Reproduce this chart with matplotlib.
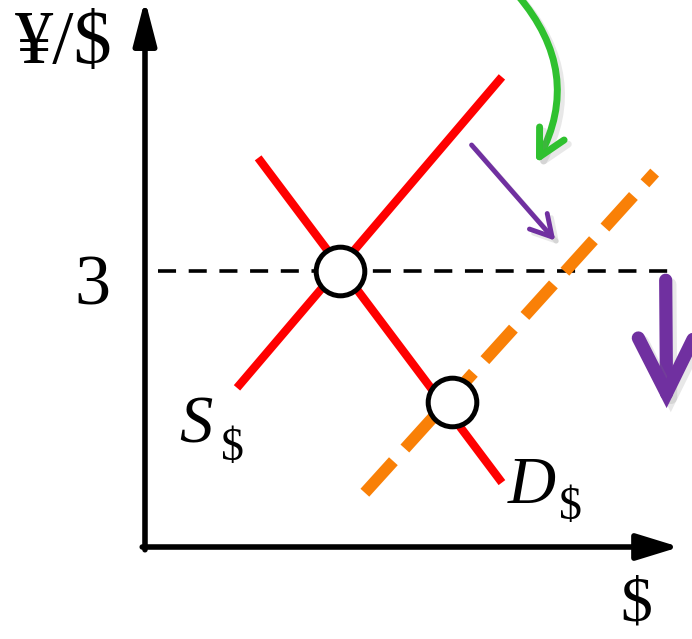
import matplotlib
matplotlib.use("Agg")
import matplotlib.pyplot as plt
import matplotlib.patheffects as pe

# quantity / price values (price axis: yen per dollar)
supply_q = [1.00, 3.88]
supply_p = [1.73, 5.11]
demand_q = [1.23, 3.88]
demand_p = [4.23, 0.70]
new_supply_q = [2.39, 5.54]
new_supply_p = [0.59, 4.07]
eq_q = [2.12, 3.34]
eq_p = [3.0, 1.58]
rate = 3
rate_q = [0.14, 5.71]

# annotation arrows (start, end)
green_arrow = [(4.05, 6.00), (4.25, 4.17)]
shift_arrow = [(3.55, 4.37), (4.46, 3.33)]
drop_arrow = [(5.66, 2.90), (5.67, 1.51)]

fig = plt.figure(figsize=(6.92, 6.39), dpi=100)
ax = fig.add_axes([0, 0, 1, 1])
ax.set_xlim(-1.576, 5.946)
ax.set_ylim(-1.0, 5.946)
ax.axis("off")

serif = "Liberation Serif"

# axes with arrow heads
ax.annotate("", xy=(0, 5.95), xytext=(0, -0.03),
            arrowprops=dict(arrowstyle="-|>,head_length=2.7,head_width=0.7",
                            lw=4, color="black", shrinkA=0, shrinkB=0))
ax.annotate("", xy=(5.81, 0), xytext=(-0.03, 0),
            arrowprops=dict(arrowstyle="-|>,head_length=2.6,head_width=0.8",
                            lw=4, color="black", shrinkA=0, shrinkB=0))

# exchange-rate dashed line
ax.plot(rate_q, [rate, rate], color="black", lw=2.6, dashes=(5.0, 3.5), zorder=2)

# supply and demand
ax.plot(supply_q, supply_p, color="#ff0000", lw=6, solid_capstyle="butt", zorder=3)
ax.plot(demand_q, demand_p, color="#ff0000", lw=6, solid_capstyle="butt", zorder=3)
ax.plot(new_supply_q, new_supply_p, color="#f98007", lw=8.5,
        dashes=(3.6, 1.45), dash_capstyle="butt", zorder=4)

# equilibrium points
ax.plot(eq_q, eq_p, "o", ms=35, mfc="white", mec="black", mew=3.6, zorder=5)

shadow = [pe.SimpleLineShadow(offset=(3, -3), alpha=0.18, shadow_color="gray"),
          pe.Normal()]

ax.annotate("", xy=green_arrow[1], xytext=green_arrow[0],
            arrowprops=dict(arrowstyle="->,head_length=1.9,head_width=1.0",
                            connectionstyle="arc3,rad=-0.34", lw=5,
                            color="#2fc12f", shrinkA=0, shrinkB=0,
                            path_effects=shadow))
ax.annotate("", xy=shift_arrow[1], xytext=shift_arrow[0],
            arrowprops=dict(arrowstyle="->,head_length=1.5,head_width=0.85",
                            lw=3.5, color="#7030a0", shrinkA=0, shrinkB=0,
                            path_effects=shadow))
ax.annotate("", xy=drop_arrow[1], xytext=drop_arrow[0],
            arrowprops=dict(arrowstyle="->,head_length=4.0,head_width=2.0",
                            lw=9.5, color="#7030a0", shrinkA=0, shrinkB=0,
                            joinstyle="miter", path_effects=shadow))

# labels
ax.text(-0.88, 5.46, "¥/$", fontsize=55, family=serif, ha="center", va="center")
ax.text(-0.576, rate - 0.17, str(rate), fontsize=52, family=serif, ha="center", va="center")
ax.text(0.554, 1.32, "S", fontsize=48, family=serif, style="italic", ha="center", va="center")
ax.text(0.946, 1.07, "$", fontsize=33, family=serif, ha="center", va="center")
ax.text(4.207, 0.66, "D", fontsize=48, family=serif, style="italic", ha="center", va="center")
ax.text(4.63, 0.43, "$", fontsize=33, family=serif, ha="center", va="center")
ax.text(5.337, -0.64, "$", fontsize=46, family=serif, ha="center", va="center")

fig.savefig("out.png", dpi=100)
